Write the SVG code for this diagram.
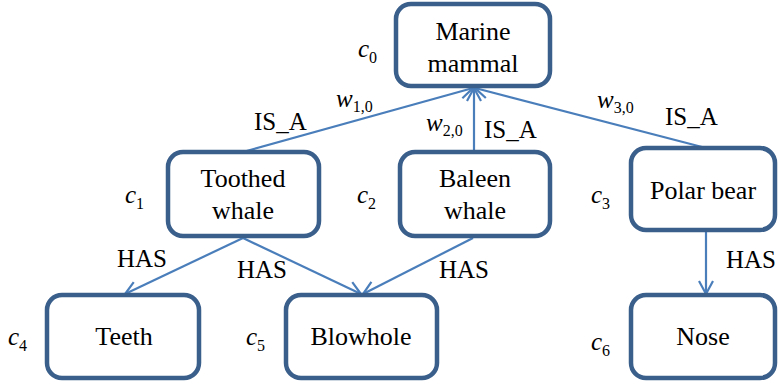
<svg xmlns="http://www.w3.org/2000/svg" width="779" height="385" viewBox="0 0 779 385">
<style>
text{font-family:"Times New Roman",Times,"Liberation Serif","Nimbus Roman","Nimbus Roman No9 L","DejaVu Serif","Noto Serif",serif}
.node rect{fill:#fff;stroke:#3a5f8b;stroke-width:4.5}
.t{font-size:26px;fill:#000;text-anchor:middle}
.l{font-size:25px;fill:#000}
.v{font-size:25px;font-style:italic;fill:#000}
.s{font-size:16px;font-style:normal}
.e line{stroke:#4a7ebb;stroke-width:2.2;marker-end:url(#a)}
</style>
<defs>
<marker id="a" markerUnits="userSpaceOnUse" markerWidth="20" markerHeight="20" refX="14" refY="8" orient="auto" viewBox="0 0 20 16">
<path d="M1,1 L14,8 L1,15" fill="none" stroke="#4a7ebb" stroke-width="2.2"/>
</marker>
</defs>
<g class="e" id="connectors">
<line x1="243" y1="152" x2="473" y2="88"/>
<line x1="474" y1="152" x2="474" y2="88"/>
<line x1="706" y1="148" x2="475" y2="88"/>
<line x1="243" y1="238" x2="125" y2="294"/>
<line x1="243" y1="238" x2="361" y2="294"/>
<line x1="473" y1="238" x2="363" y2="294"/>
<line x1="706" y1="232" x2="706" y2="294"/>
</g>
<g class="node" id="c0"><rect x="396" y="4" width="154" height="82" rx="15"/><text class="t" x="473" y="40">Marine</text><text class="t" x="473" y="72">mammal</text></g>
<g class="node" id="c1"><rect x="168" y="152" width="151" height="84" rx="15"/><text class="t" x="243" y="187">Toothed</text><text class="t" x="243" y="219">whale</text></g>
<g class="node" id="c2"><rect x="400" y="152" width="150" height="84" rx="15"/><text class="t" x="475" y="187">Baleen</text><text class="t" x="475" y="219">whale</text></g>
<g class="node" id="c3"><rect x="631" y="148" width="144" height="82" rx="15"/><text class="t" x="703" y="199">Polar bear</text></g>
<g class="node" id="c4"><rect x="47" y="295" width="152" height="83" rx="15"/><text class="t" x="124" y="345">Teeth</text></g>
<g class="node" id="c5"><rect x="286" y="295" width="151" height="83" rx="15"/><text class="t" x="361" y="345">Blowhole</text></g>
<g class="node" id="c6"><rect x="631" y="295" width="144" height="83" rx="15"/><text class="t" x="703" y="345">Nose</text></g>
<g id="labels">
<text class="v" x="358" y="57">c<tspan class="s" dy="6">0</tspan></text>
<text class="v" x="125" y="203">c<tspan class="s" dy="6">1</tspan></text>
<text class="v" x="357" y="203">c<tspan class="s" dy="6">2</tspan></text>
<text class="v" x="591" y="203">c<tspan class="s" dy="6">3</tspan></text>
<text class="v" x="8" y="345">c<tspan class="s" dy="6">4</tspan></text>
<text class="v" x="246" y="345">c<tspan class="s" dy="6">5</tspan></text>
<text class="v" x="591" y="350">c<tspan class="s" dy="6">6</tspan></text>
<text class="v" x="336" y="107">w<tspan class="s" dy="5">1,0</tspan></text>
<text class="v" x="426" y="131">w<tspan class="s" dy="5">2,0</tspan></text>
<text class="v" x="597" y="108">w<tspan class="s" dy="5">3,0</tspan></text>
<text class="l" x="254" y="130">IS_A</text>
<text class="l" x="484" y="138">IS_A</text>
<text class="l" x="665" y="125">IS_A</text>
<text class="l" x="117" y="267">HAS</text>
<text class="l" x="237" y="278">HAS</text>
<text class="l" x="439" y="278">HAS</text>
<text class="l" x="726" y="268">HAS</text>
</g>
</svg>
